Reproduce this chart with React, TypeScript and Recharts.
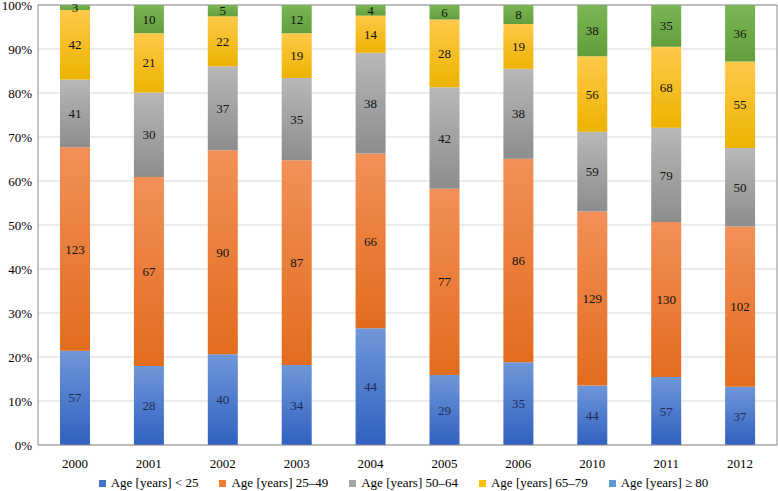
import { Bar, BarChart, CartesianGrid, LabelList, Legend, XAxis, YAxis } from "recharts";

const YEARS = ["2000", "2001", "2002", "2003", "2004", "2005", "2006", "2010", "2011", "2012"];
const UNDER_25 = [57, 28, 40, 34, 44, 29, 35, 44, 57, 37];
const AGE_25_49 = [123, 67, 90, 87, 66, 77, 86, 129, 130, 102];
const AGE_50_64 = [41, 30, 37, 35, 38, 42, 38, 59, 79, 50];
const AGE_65_79 = [42, 21, 22, 19, 14, 28, 19, 56, 68, 55];
const AGE_80_PLUS = [3, 10, 5, 12, 4, 6, 8, 38, 35, 36];
const Y_TICKS = [0, 0.1, 0.2, 0.3, 0.4, 0.5, 0.6, 0.7, 0.8, 0.9, 1];

const FONT = "'Liberation Serif', 'DejaVu Serif', serif";

const SERIES = [
  { key: "u25", name: "Age [years] < 25", values: UNDER_25, top: "#6f97d9", bottom: "#3161c0", legend: "#4472c4", label: "#1d2b55" },
  { key: "a25", name: "Age [years] 25–49", values: AGE_25_49, top: "#f39058", bottom: "#e26c1d", legend: "#ed7d31", label: "#111" },
  { key: "a50", name: "Age [years] 50–64", values: AGE_50_64, top: "#b8b8b8", bottom: "#8d8d8d", legend: "#a5a5a5", label: "#111" },
  { key: "a65", name: "Age [years] 65–79", values: AGE_65_79, top: "#ffc94a", bottom: "#ecb300", legend: "#ffc000", label: "#111" },
  { key: "a80", name: "Age [years] ≥ 80", values: AGE_80_PLUS, top: "#7bb555", bottom: "#629f3c", legend: "#5b9bd5", label: "#111" },
];

const data = YEARS.map((year, i) => {
  const row: Record<string, string | number> = { year };
  SERIES.forEach((s) => {
    row[s.key] = s.values[i];
  });
  return row;
});

function LegendContent() {
  return (
    <div style={{ display: "flex", justifyContent: "center", gap: 21, fontFamily: FONT, fontSize: 13, color: "#000", paddingLeft: 30 }}>
      {SERIES.map((s) => (
        <div key={s.key} style={{ display: "flex", alignItems: "center", gap: 5 }}>
          <span style={{ width: 7, height: 7, background: s.legend, display: "inline-block" }} />
          <span>{s.name}</span>
        </div>
      ))}
    </div>
  );
}

export default function App() {
  return (
    <div style={{ position: "absolute", left: 0, top: 0, background: "#fff", fontFamily: FONT }}>
      <BarChart
        width={778}
        height={491}
        data={data}
        stackOffset="expand"
        barSize={30}
        margin={{ top: 5, right: 1, left: 0, bottom: 0 }}
        style={{ fontFamily: FONT }}
      >
        <defs>
          {SERIES.map((s) => (
            <linearGradient key={s.key} id={`g-${s.key}`} x1="0" y1="0" x2="0" y2="1">
              <stop offset="0%" stopColor={s.top} />
              <stop offset="100%" stopColor={s.bottom} />
            </linearGradient>
          ))}
        </defs>
        <CartesianGrid vertical={false} stroke="#d9d9d9" />
        <XAxis
          dataKey="year"
          stroke="#8c8c8c"
          tick={{ fill: "#000", fontSize: 13, fontFamily: FONT }}
          tickLine={false}
          tickMargin={8}
          height={30}
        />
        <YAxis
          ticks={Y_TICKS}
          domain={[0, 1]}
          tickFormatter={(v: number) => `${Math.round(v * 100)}%`}
          stroke="#8c8c8c"
          tick={{ fill: "#000", fontSize: 13, fontFamily: FONT }}
          tickLine={false}
          tickSize={0}
          tickMargin={6}
          width={38}
          interval={0}
        />
        <Legend verticalAlign="bottom" height={16} content={LegendContent} />
        {SERIES.map((s) => (
          <Bar key={s.key} dataKey={s.key} name={s.name} stackId="a" fill={`url(#g-${s.key})`} isAnimationActive={false}>
            <LabelList dataKey={s.key} position="center" fill={s.label} fontSize={13} fontFamily={FONT} />
          </Bar>
        ))}
        <line x1={38} y1={5} x2={777} y2={5} stroke="#8c8c8c" />
        <line x1={777} y1={5} x2={777} y2={445} stroke="#8c8c8c" />
      </BarChart>
    </div>
  );
}
